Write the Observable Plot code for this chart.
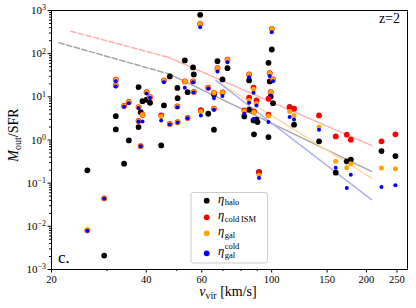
<!DOCTYPE html>
<html><head><meta charset="utf-8">
<script src="https://cdn.jsdelivr.net/npm/d3@7"></script>
<script src="https://cdn.jsdelivr.net/npm/@observablehq/plot@0.6"></script>
<style>
body{margin:0;background:#fff;}
#chart{width:416px;height:308px;}
svg{font-family:"Liberation Serif",serif;}
</style></head><body><div id="chart"></div>
<script>
// galaxies: virial velocity (km/s) and mass loading factors
const vvir = [26.0, 29.4, 32.0, 32.0, 34.0, 35.2, 37.8, 37.8, 38.4, 38.9, 40.1, 41.1, 44.6, 45.5, 47.5, 50.2, 50.3, 53.0, 54.1, 56.3, 56.6, 59.3, 59.6, 62.9, 65.6, 65.6, 67.3, 69.8, 72.4, 81.9, 84.8, 84.8, 87.6, 87.9, 89.5, 91.2, 97.7, 98.6, 100.1, 101.0, 99.3, 97.7, 114.1, 117.8, 141.4, 159.8, 173.2, 178.4, 223.2, 247.2, 90.2];
const etaHalo = [0.198, 0.0021, 3.57, 1.76, 0.283, 0.98, 16.8, 1.99, 4.42, 7.94, 8.57, 7.30, 0.75, 6.32, 29.7, 16.1, 9.33, 69.6, 12.8, 48.0, 33.0, 795, 4.84, 4.06, 11.4, 1.73, 67.0, 25.3, 46.2, 3.52, 24.0, 5.03, 2.84, 1.35, 2.95, 0.181, 61.5, 22.7, 125, 7.14, 10.2, 1.17, 5.78, 2.26, 0.93, 0.175, 0.320, 0.350, 0.553, 0.424, 2.60];
const etaColdISM = [0.00807, 0.0445, 24.9, 18.4, 6.16, 7.62, 5.78, 2.77, 0.72, 3.85, 12.8, 9.84, 3.71, 24.0, 2.36, 5.99, 2.60, 22.7, 3.25, 22.7, 13.0, 492, 4.84, 16.3, 12.4, 5.31, 46.2, 12.6, 72.3, 4.84, 33.0, 9.53, 16.3, 4.59, 8.25, 0.181, 9.04, 35.4, 377, 25.3, 12.8, 3.85, 5.78, 5.31, 3.71, 1.21, 1.33, 1.02, 0.93, 1.35, null];
const etaGal = [0.00807, 0.0445, 24.9, 18.4, 6.16, 7.62, 5.78, 2.77, 0.72, 3.85, 12.8, 9.84, 3.5, 24.0, 2.36, 5.99, 2.60, 22.7, 3.25, 22.7, 13.0, 492, 4.59, 16.3, 12.4, 5.31, 46.2, 12.6, 72.3, 4.7, 33.0, 8.25, 15.0, 4.4, 7.03, 0.152, null, 35.4, 377, 25.3, 12.8, 3.6, 4.59, 3.71, 1.99, 0.320, 0.229, 0.283, 0.224, 0.217, null];
const etaGalCold = [0.0079, 0.044, 23.0, 17.4, 5.9, 7.1, 5.5, 2.7, 0.72, 2.70, 12.0, 9.5, 2.84, 21.9, 2.3, 5.7, 2.55, 16.3, 3.2, 21.9, 12.6, 410, 3.71, 15.5, 9.33, 5.0, 38.7, 10.4, 63.6, 4.06, 28.6, 7.3, 12.4, 3.11, 6.32, 0.131, null, 30.2, 315, 23.0, 10.8, 2.60, 3.39, 3.00, 1.73, 0.229, 0.077, 0.157, 0.0813, 0.0889, null];

// fitted broken power laws
const fitColdV = [23.0, 46.8, 207.5];
const fitColdEta = [332, 83, 0.75];
const fitHaloV = [21.1, 47.2, 207.5];
const fitHaloEta = [179, 33.9, 0.188];
const fitGalV = [66.5, 207.5];
const fitGalEta = [24, 0.131];
const fitGalColdV = [66.5, 207.5];
const fitGalColdEta = [24, 0.0415];

// ticks
const xTicks = [20, 40, 60, 100, 150, 200, 250];
const xMinor = [30, 50, 70, 80, 90];
const yTicks = [1e-3, 1e-2, 1e-1, 1, 10, 100, 1000];
const yMinor = yTicks.slice(0, -1).flatMap(d => [2,3,4,5,6,7,8,9].map(k => k * d));

// legend labels
const legendSubs = ["halo", "cold\u2009ISM", "gal", "gal"];
const legendSups = [null, null, null, "cold"];

const rows = vvir.map((v, i) => ({v, halo: etaHalo[i], cold: etaColdISM[i], gal: etaGal[i], galcold: etaGalCold[i]}));
const pts = (xs, ys) => xs.map((x, i) => ({x, y: ys[i]}));
const coldFit = pts(fitColdV, fitColdEta);
const haloFit = pts(fitHaloV, fitHaloEta);

const chart = Plot.plot({
  width: 416, height: 308,
  marginLeft: 51, marginRight: 9, marginTop: 10, marginBottom: 39,
  style: {fontFamily: "Liberation Serif", fontSize: "10.5px", background: "white", color: "black"},
  x: {type: "log", domain: [20, 270]},
  y: {type: "log", domain: [1e-3, 1e3]},
  marks: [
    Plot.axisX({ticks: xTicks, tickFormat: d => String(d), tickSize: 3.5, tickPadding: 3, label: null, fontSize: 10.5}),
    Plot.axisX({ticks: xMinor, tickFormat: () => "", tickSize: 2, label: null}),
    Plot.axisY({ticks: yTicks, tickFormat: d => "10^" + Math.round(Math.log10(d)), tickSize: 3.5, tickPadding: 2, label: null, fontSize: 11}),
    Plot.axisY({ticks: yMinor, tickFormat: () => "", tickSize: 2, label: null}),
    Plot.line(coldFit.slice(0, 2), {x: "x", y: "y", stroke: "#ffb0b0", strokeWidth: 1.5, strokeDasharray: "5.5,2.4"}),
    Plot.line(coldFit.slice(1), {x: "x", y: "y", stroke: "#ffb0b0", strokeWidth: 1.5}),
    Plot.line(haloFit.slice(0, 2), {x: "x", y: "y", stroke: "#a6a6a6", strokeWidth: 1.5, strokeDasharray: "5.5,2.4"}),
    Plot.line(haloFit.slice(1), {x: "x", y: "y", stroke: "#a6a6a6", strokeWidth: 1.5}),
    Plot.line(pts(fitGalV, fitGalEta), {x: "x", y: "y", stroke: "#ffdba6", strokeWidth: 1.5}),
    Plot.line(pts(fitGalColdV, fitGalColdEta), {x: "x", y: "y", stroke: "#b0b0f5", strokeWidth: 1.5}),
    Plot.dot(rows, {x: "v", y: "halo", r: 2.9, fill: "black"}),
    Plot.dot(rows, {x: "v", y: "cold", r: 2.9, fill: "#ff0000"}),
    Plot.dot(rows, {x: "v", y: "gal", r: 2.5, fill: "#ffa500"}),
    Plot.dot(rows, {x: "v", y: "galcold", r: 2.0, fill: "#0000ff"}),
    Plot.frame({stroke: "black", strokeWidth: 1})
  ]
});
document.getElementById("chart").appendChild(chart);

const svg = d3.select(chart);
// superscript exponents on y tick labels
svg.selectAll("text").each(function() {
  const m = /^10\^(-?\d+)$/.exec(this.textContent);
  if (m) {
    const el = d3.select(this);
    el.text("10");
    el.append("tspan").attr("dy", "-0.45em").attr("font-size", "0.72em").text(m[1].replace("-", "\u2212"));
  }
});
const F = "Liberation Serif";
// y label
const yl = svg.append("text").attr("transform", "translate(18,135) rotate(-90)")
  .attr("text-anchor", "middle").attr("font-family", F).attr("font-size", 14).attr("fill", "black");
yl.append("tspan").attr("font-style", "italic").text("M");
yl.append("tspan").attr("dy", 3).attr("font-size", 10).text("out");
yl.append("tspan").attr("dy", -3).text("/SFR");
// x label
const xl = svg.append("text").attr("x", 228).attr("y", 296)
  .attr("text-anchor", "middle").attr("font-family", F).attr("font-size", 14).attr("fill", "black");
xl.append("tspan").attr("font-style", "italic").text("v");
xl.append("tspan").attr("dy", 3).attr("font-size", 10).text("vir");
xl.append("tspan").attr("dy", -3).text(" [km/s]");
// annotations
svg.append("text").attr("x", 400).attr("y", 23).attr("text-anchor", "end")
  .attr("font-family", F).attr("font-size", 14).text("z=2");
svg.append("text").attr("x", 58).attr("y", 263).attr("text-anchor", "start")
  .attr("font-family", F).attr("font-size", 17).text("c.");
// legend
const lg = svg.append("g");
lg.append("rect").attr("x", 191).attr("y", 192.5).attr("width", 76.5).attr("height", 70.5).attr("rx", 2.5)
  .attr("fill", "white").attr("fill-opacity", 0.85).attr("stroke", "#cccccc");
const legendColors = ["black", "#ff0000", "#ffa500", "#0000ff"];
const legendY = [200.7, 217.3, 233.3, 253.3];
legendSubs.forEach((sub, i) => {
  const y = legendY[i];
  lg.append("circle").attr("cx", 206.7).attr("cy", y).attr("r", 2.9).attr("fill", legendColors[i]);
  const t = lg.append("text").attr("x", 218).attr("y", y + 2).attr("text-anchor", "start")
    .attr("font-family", F).attr("font-size", 12.5).attr("fill", "black");
  t.append("tspan").attr("font-style", "italic").text("\u03b7");
  const etaW = t.node().getComputedTextLength();
  t.append("tspan").attr("dx", 0.5).attr("dy", 2.5).attr("font-size", 8.5).text(sub);
  if (legendSups[i]) {
    t.append("tspan").attr("x", 218 + etaW + 0.5).attr("dy", -8.5).attr("font-size", 8.5).text(legendSups[i]);
  }
});
</script></body></html>
